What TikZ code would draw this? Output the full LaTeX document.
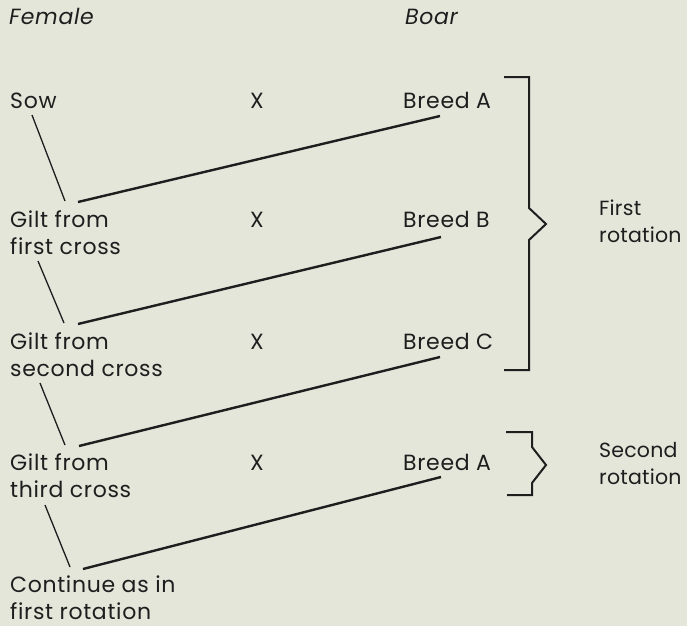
\documentclass[tikz,border=0pt]{standalone}
\usepackage{fontspec}
\setmainfont{Poppins}[LetterSpace=3]
\newfontfamily\sidefont{Poppins}[LetterSpace=1]
\definecolor{bg}{RGB}{228,230,218}
\definecolor{ink}{RGB}{30,30,30}
\newcommand{\twolines}[2]{\vtop{\hbox{#1}\hbox{#2}}}
\begin{document}
\begin{tikzpicture}[x=1pt,y=-1pt,
  lbl/.style={anchor=base west,inner sep=0pt,text=ink,font=\fontsize{22}{27}\selectfont},
  ital/.style={lbl,font=\fontsize{22}{27}\selectfont\itshape},
  side/.style={lbl,font=\sidefont\fontsize{20.5}{27}\selectfont},
  thinline/.style={draw=ink,line width=1.3pt},
  thickline/.style={draw=ink,line width=2.4pt},
  brk/.style={draw=ink,line width=2pt,line join=miter}]
\fill[bg] (0,0) rectangle (687,626);
\useasboundingbox (0,0) rectangle (687,626);
% headers
\node[ital] (female) at (9,25) {Female};
\node[ital] (boar) at (405,25) {Boar};
% rows
\node[lbl] (sow) at (10,108) {Sow};
\node[lbl] (x1) at (250,108) {X};
\node[lbl] (ba1) at (403,108) {Breed A};
\node[lbl] (g1) at (10,227) {\twolines{Gilt from}{first cross}};
\node[lbl] (x2) at (250,227) {X};
\node[lbl] (bb) at (403,227) {Breed B};
\node[lbl] (g2) at (10,349) {\twolines{Gilt from}{second cross}};
\node[lbl] (x3) at (250,349) {X};
\node[lbl] (bc) at (403,349) {Breed C};
\node[lbl] (g3) at (10,470) {\twolines{Gilt from}{third cross}};
\node[lbl] (x4) at (250,470) {X};
\node[lbl] (ba2) at (403,470) {Breed A};
\node[lbl] (cont) at (10,592) {\twolines{Continue as in}{first rotation}};
\node[side] (first) at (599,215) {\twolines{First}{rotation}};
\node[side] (second) at (599,457) {\twolines{Second}{rotation}};
% connector end points
\coordinate (c1a) at (32,115); \coordinate (c1b) at (65,201);
\coordinate (t1a) at (78,202); \coordinate (t1b) at (440,116);
\coordinate (c2a) at (38,261); \coordinate (c2b) at (64,323);
\coordinate (t2a) at (78,324); \coordinate (t2b) at (441,237);
\coordinate (c3a) at (40,383); \coordinate (c3b) at (65,445);
\coordinate (t3a) at (79,446); \coordinate (t3b) at (440,357);
\coordinate (c4a) at (45,505); \coordinate (c4b) at (70,567);
\coordinate (t4a) at (83,569); \coordinate (t4b) at (441,477);
\draw[thinline] (c1a) -- (c1b);
\draw[thickline] (t1a) -- (t1b);
\draw[thinline] (c2a) -- (c2b);
\draw[thickline] (t2a) -- (t2b);
\draw[thinline] (c3a) -- (c3b);
\draw[thickline] (t3a) -- (t3b);
\draw[thinline] (c4a) -- (c4b);
\draw[thickline] (t4a) -- (t4b);
% brackets
\draw[brk] (504,77) -- (529,77) -- (529,208) -- (546,224) -- (529,240) -- (529,370) -- (504,370);
\draw[brk] (506,432) -- (532,432) -- (532,447) -- (546,465) -- (532,483) -- (532,495) -- (507,495);
\end{tikzpicture}
\end{document}
